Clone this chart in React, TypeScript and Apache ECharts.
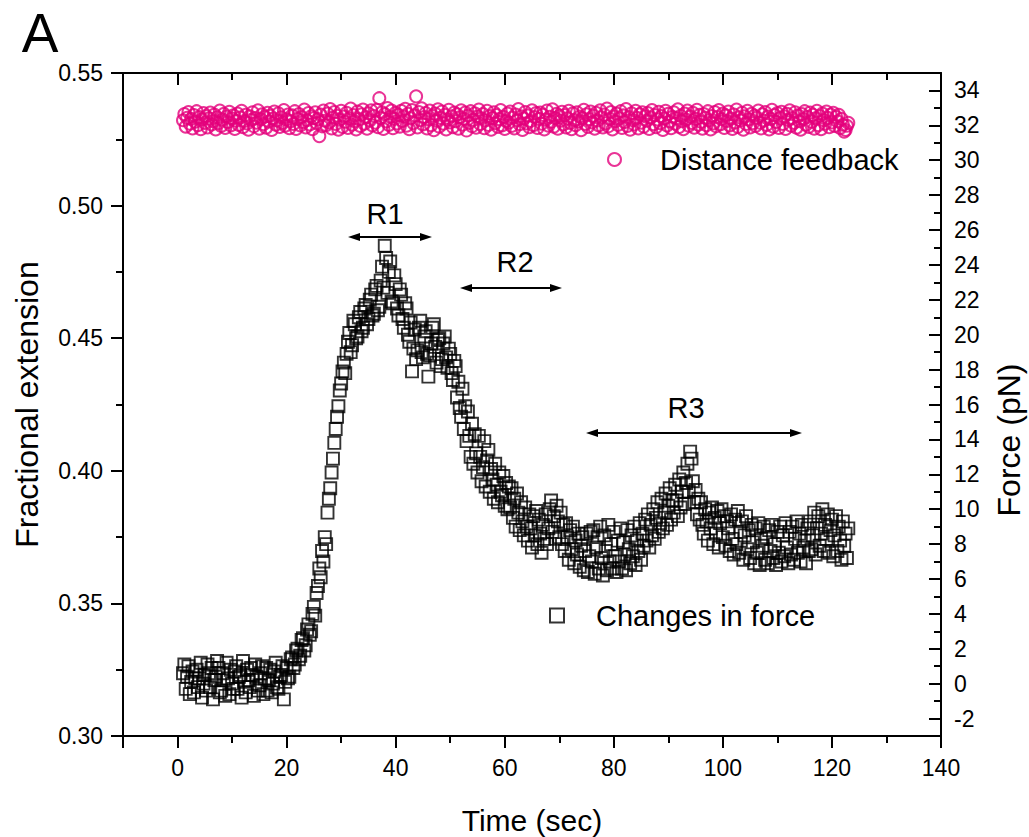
import React, { useEffect, useRef } from "react";
import * as echarts from "echarts";

const FONT = '"Liberation Sans", Arial, Helvetica, sans-serif';

// Sampling of both traces (seconds)
const T_START = 1.0;
const T_STEP = 0.25;

// Changes in force (pN), t = 1.00 ... 123.00 s, 20 samples (5 s) per row
const forcePN = [
  0.6, 1.1, -0.3, 0.4, 1.0, -0.6, 0.1, 0.7, -0.5, 0.3, 0.8, -0.2, 0.3, 1.2, -0.8, 0.0, 0.5, -0.4, 1.1, 0.6,
  -0.2, 0.9, -0.9, 0.2, 0.4, 1.3, 0.9, -0.5, -0.4, 0.6, 0.2, -0.7, 1.2, 0.3, -0.6, 0.8, 0.0, -0.3, 0.7, 1.0,
  -0.3, 0.4, 0.5, -0.8, 1.3, 0.1, -0.5, 0.8, 0.2, -0.2, 0.9, 0.5, -0.7, 1.1, 0.4, -0.4, -0.1, 0.6, 1.0, -0.6,
  0.3, 0.9, -0.4, 0.2, 0.8, -0.5, 0.0, 0.7, 1.2, -0.2, -0.3, 0.4, 0.5, 1.0, -0.9, 0.1, 0.9, 0.3, 0.4, 1.4,
  1.5, 0.9, 1.1, 1.9, 2.0, 1.4, 1.6, 2.5, 2.6, 1.9, 2.2, 3.1, 3.4, 2.8, 3.0, 4.0, 4.4, 3.9, 5.2, 5.6,
  6.6, 6.1, 7.6, 7.0, 8.4, 8.0, 9.8, 10.6, 11.2, 12.1, 12.9, 13.8, 14.6, 15.3, 15.9, 16.8, 17.2, 17.9, 18.4, 17.8,
  18.9, 19.6, 20.1, 19.0, 19.4, 20.8, 20.6, 19.8, 19.9, 21.0, 21.3, 20.2, 20.4, 21.5, 21.7, 20.6, 20.9, 22.0, 22.3, 21.1,
  21.2, 22.6, 22.8, 21.4, 21.6, 23.1, 23.9, 22.7, 25.1, 24.4, 22.4, 23.6, 24.2, 21.9, 21.8, 23.4, 22.9, 21.5, 21.1, 22.6,
  22.3, 20.9, 20.4, 21.8, 21.5, 20.0, 19.6, 20.7, 17.9, 19.2, 20.3, 18.6, 19.1, 20.4, 20.8, 19.0, 18.7, 19.9, 20.2, 18.9,
  17.6, 18.8, 19.5, 20.4, 20.6, 19.3, 18.4, 19.7, 19.8, 18.2, 18.6, 19.5, 19.9, 18.7, 18.1, 19.2, 18.9, 17.8, 17.4, 18.5,
  18.2, 16.4, 17.3, 15.8, 15.3, 16.9, 14.6, 15.9, 13.9, 15.6, 14.2, 13.0, 14.9, 12.6, 14.3, 13.2, 12.1, 14.2, 13.0, 11.6,
  12.4, 13.9, 11.3, 12.8, 13.4, 11.0, 12.3, 11.7, 10.6, 12.6, 11.4, 10.4, 12.1, 11.0, 10.8, 11.9, 10.2, 11.5, 10.0, 11.3,
  10.1, 11.2, 9.5, 10.6, 9.0, 10.9, 9.8, 8.8, 10.4, 9.3, 8.5, 10.1, 9.0, 8.2, 9.7, 8.9, 7.8, 9.6, 8.5, 9.9,
  8.0, 9.4, 8.6, 7.5, 9.1, 8.3, 9.7, 8.0, 8.9, 10.0, 10.5, 8.7, 9.6, 8.3, 10.2, 9.3, 8.4, 9.8, 8.0, 9.1,
  7.6, 9.2, 8.4, 7.1, 8.8, 7.7, 9.0, 6.9, 8.2, 7.4, 8.6, 6.7, 7.9, 8.4, 6.5, 7.6, 8.6, 6.4, 7.3, 8.7,
  7.0, 8.8, 6.3, 7.8, 8.4, 6.6, 9.0, 7.2, 6.2, 8.5, 7.6, 6.5, 9.1, 7.0, 8.0, 6.6, 8.7, 7.3, 6.4, 8.2,
  7.0, 8.9, 6.6, 8.1, 7.4, 6.5, 8.8, 7.7, 6.9, 8.5, 7.3, 9.0, 6.8, 8.2, 7.6, 9.2, 7.1, 8.6, 7.9, 9.4,
  8.2, 9.7, 7.8, 9.1, 8.5, 10.0, 8.3, 9.5, 10.4, 8.7, 9.2, 10.6, 8.9, 9.8, 10.9, 9.1, 10.2, 11.2, 9.4, 10.5,
  9.8, 11.4, 10.5, 9.6, 11.7, 10.1, 11.0, 12.1, 10.3, 11.5, 12.6, 11.0, 13.3, 12.9, 11.6, 10.4, 11.1, 9.7, 10.6, 9.4,
  10.4, 9.1, 8.6, 10.0, 9.3, 8.2, 9.8, 8.9, 10.1, 8.0, 9.5, 8.6, 9.9, 7.8, 9.2, 10.0, 8.4, 9.6, 7.9, 9.3,
  8.9, 7.6, 9.7, 8.3, 7.4, 9.4, 8.0, 9.9, 7.5, 8.7, 9.3, 7.1, 8.5, 9.6, 7.7, 8.8, 7.2, 9.1, 8.1, 6.9,
  8.9, 7.5, 9.2, 6.8, 8.3, 7.9, 9.0, 7.1, 8.4, 6.9, 8.8, 7.6, 9.1, 7.2, 8.0, 6.8, 8.7, 7.5, 9.0, 7.0,
  8.5, 7.3, 9.2, 7.8, 6.9, 8.7, 7.4, 9.0, 7.1, 8.3, 9.3, 7.5, 8.6, 7.0, 9.1, 7.8, 8.2, 6.9, 8.9, 7.6,
  9.3, 7.7, 8.5, 9.8, 7.4, 8.9, 9.6, 7.9, 8.6, 10.0, 7.6, 9.1, 8.3, 9.7, 7.5, 8.8, 9.4, 7.3, 8.5, 9.6,
  7.6, 9.0, 8.2, 7.1, 9.3, 7.9, 8.6, 7.2, 8.9,
];

// Distance feedback (fractional extension), t = 1.00 ... 123.00 s
const distanceFeedback = [
  0.5322, 0.5345, 0.5298, 0.5331, 0.5353, 0.5309, 0.5327, 0.5291, 0.5341, 0.5316, 0.5356, 0.5303, 0.5334, 0.5288, 0.5325, 0.5349, 0.5312, 0.5338, 0.5295, 0.5329,
  0.5351, 0.5306, 0.5318, 0.5343, 0.5287, 0.5333, 0.5311, 0.5358, 0.53, 0.5324, 0.5346, 0.5293, 0.5336, 0.5315, 0.5354, 0.5302, 0.5328, 0.534, 0.5289, 0.532,
  0.5347, 0.5304, 0.5332, 0.5357, 0.5296, 0.5319, 0.5342, 0.531, 0.5286, 0.5337, 0.5323, 0.5352, 0.5299, 0.533, 0.5313, 0.5359, 0.529, 0.5326, 0.5344, 0.5307,
  0.5335, 0.5294, 0.535, 0.5317, 0.5339, 0.5285, 0.5328, 0.5355, 0.5305, 0.5321, 0.5348, 0.5297, 0.5333, 0.5312, 0.536, 0.5301, 0.5325, 0.5343, 0.5292, 0.5318,
  0.534, 0.5308, 0.5356, 0.5289, 0.5327, 0.5345, 0.5302, 0.5334, 0.5315, 0.5362, 0.5295, 0.5322, 0.5349, 0.5306, 0.5337, 0.5288, 0.533, 0.5352, 0.5311, 0.5326,
  0.5262, 0.5343, 0.5299, 0.5358, 0.532, 0.5303, 0.5347, 0.5314, 0.5364, 0.5291, 0.5332, 0.5353, 0.5308, 0.5339, 0.5286, 0.5324, 0.5357, 0.5297, 0.5336, 0.5316,
  0.535, 0.5293, 0.5329, 0.5366, 0.5305, 0.5341, 0.5318, 0.5287, 0.5355, 0.5326, 0.53, 0.5344, 0.5362, 0.5309, 0.5333, 0.529, 0.5348, 0.5321, 0.5359, 0.5302,
  0.5338, 0.5313, 0.5361, 0.5296, 0.5405, 0.533, 0.5352, 0.5289, 0.5345, 0.5317, 0.5368, 0.5304, 0.5335, 0.5358, 0.5292, 0.5327, 0.535, 0.531, 0.5342, 0.5298,
  0.5357, 0.5319, 0.5336, 0.5365, 0.5301, 0.5346, 0.5288, 0.5329, 0.536, 0.5311, 0.534, 0.5412, 0.5295, 0.5353, 0.5322, 0.5367, 0.5306, 0.5334, 0.5349, 0.5291,
  0.5326, 0.5358, 0.5303, 0.5339, 0.5284, 0.5347, 0.532, 0.5363, 0.5298, 0.5331, 0.5355, 0.5309, 0.5342, 0.5287, 0.5324, 0.5361, 0.5314, 0.5337, 0.5296, 0.5351,
  0.5318, 0.5344, 0.529, 0.5333, 0.5359, 0.5305, 0.5327, 0.5351, 0.5283, 0.5339, 0.5312, 0.5356, 0.5299, 0.5323, 0.5348, 0.5294, 0.5336, 0.5362, 0.5308, 0.5329,
  0.5345, 0.5292, 0.5321, 0.5357, 0.5304, 0.5338, 0.5286, 0.533, 0.5352, 0.5311, 0.5341, 0.5297, 0.5326, 0.536, 0.5302, 0.5335, 0.5289, 0.5319, 0.5347, 0.5313,
  0.5355, 0.53, 0.5332, 0.5291, 0.5343, 0.5322, 0.5364, 0.5307, 0.5337, 0.5285, 0.5328, 0.5353, 0.531, 0.534, 0.5296, 0.5319, 0.5359, 0.5303, 0.5334, 0.5349,
  0.5293, 0.5327, 0.5351, 0.5309, 0.5342, 0.5287, 0.5324, 0.5358, 0.5301, 0.5335, 0.5316, 0.5363, 0.5298, 0.533, 0.5346, 0.529, 0.5339, 0.532, 0.5354, 0.5306,
  0.5341, 0.5295, 0.5329, 0.5357, 0.5312, 0.5288, 0.5348, 0.5323, 0.5303, 0.5352, 0.5317, 0.5336, 0.5284, 0.533, 0.5361, 0.5308, 0.5344, 0.5297, 0.5326, 0.5355,
  0.5314, 0.5339, 0.529, 0.535, 0.5321, 0.5302, 0.5359, 0.5333, 0.5295, 0.5343, 0.531, 0.5366, 0.5299, 0.5327, 0.5353, 0.5287, 0.5336, 0.5318, 0.5347, 0.5304,
  0.5329, 0.5356, 0.5293, 0.534, 0.5315, 0.5364, 0.53, 0.5334, 0.5286, 0.5348, 0.5322, 0.5306, 0.5357, 0.5331, 0.5291, 0.5344, 0.5313, 0.5352, 0.5298, 0.5337,
  0.532, 0.5349, 0.5289, 0.5332, 0.536, 0.5307, 0.5341, 0.5296, 0.5325, 0.5354, 0.5311, 0.5338, 0.5285, 0.5328, 0.5357, 0.5302, 0.5346, 0.5317, 0.5292, 0.5335,
  0.5352, 0.5309, 0.533, 0.5363, 0.5297, 0.5339, 0.5318, 0.5288, 0.5347, 0.5324, 0.5358, 0.5301, 0.5336, 0.5312, 0.535, 0.5294, 0.5327, 0.5361, 0.5305, 0.5342,
  0.5316, 0.529, 0.5345, 0.5331, 0.5303, 0.5356, 0.5322, 0.5287, 0.5338, 0.531, 0.5353, 0.5299, 0.5334, 0.536, 0.5306, 0.5326, 0.5347, 0.5293, 0.534, 0.5319,
  0.5355, 0.5302, 0.5328, 0.5289, 0.5343, 0.5314, 0.5362, 0.5297, 0.5333, 0.5321, 0.535, 0.5286, 0.5337, 0.5308, 0.5357, 0.5325, 0.5295, 0.5346, 0.5311, 0.5339,
  0.53, 0.5332, 0.5358, 0.5313, 0.5291, 0.5344, 0.532, 0.5353, 0.5304, 0.5336, 0.5287, 0.5327, 0.5361, 0.5298, 0.5341, 0.5315, 0.5349, 0.5293, 0.533, 0.5354,
  0.5308, 0.5337, 0.5289, 0.5346, 0.5323, 0.5359, 0.5301, 0.533, 0.5312, 0.5352, 0.5294, 0.534, 0.5318, 0.5286, 0.5345, 0.5326, 0.5356, 0.5305, 0.5334, 0.5297,
  0.5351, 0.5316, 0.5342, 0.529, 0.5329, 0.5357, 0.5303, 0.5338, 0.5288, 0.5347, 0.5322, 0.5309, 0.5355, 0.5331, 0.5296, 0.5343, 0.5314, 0.535, 0.53, 0.5335,
  0.5318, 0.5342, 0.5293, 0.5327, 0.5305, 0.5279, 0.5285, 0.5301, 0.5312,
];

// Region annotations
const regionLabels = ["R1", "R2", "R3"];

const PINK = "#e4007c";

function arrow(x1: number, x2: number, y: number) {
  const h = 12;
  const w = 4;
  return [
    { type: "line", shape: { x1: x1 + 6, y1: y, x2: x2 - 6, y2: y }, style: { stroke: "#000", lineWidth: 2 } },
    { type: "polygon", shape: { points: [[x1, y], [x1 + h, y - w], [x1 + h, y + w]] }, style: { fill: "#000" } },
    { type: "polygon", shape: { points: [[x2, y], [x2 - h, y - w], [x2 - h, y + w]] }, style: { fill: "#000" } },
  ];
}

export default function App() {
  const ref = useRef<HTMLDivElement>(null);

  useEffect(() => {
    if (!ref.current) return;
    const chart = echarts.init(ref.current, null, { renderer: "svg" });

    const forceData = forcePN.map((v, i) => [T_START + i * T_STEP, v]);
    const distData = distanceFeedback.map((v, i) => [T_START + i * T_STEP, v]);

    const axisLine = { show: true, onZero: false, lineStyle: { color: "#000", width: 2 } };
    const tickStyle = { color: "#000", width: 2 };

    const xCommon = {
      type: "value",
      min: -10,
      max: 140,
      splitNumber: 7,
      splitLine: { show: false },
      axisLine,
    };

    const labelText = (t: string, x: number, y: number) => ({
      type: "text",
      x,
      y,
      style: { text: t, fontSize: 29, fontFamily: FONT, fill: "#000", align: "center", verticalAlign: "middle" },
    });

    const option: any = {
      animation: false,
      backgroundColor: "#fff",
      grid: { left: 123, right: 88, top: 73, bottom: 101, containLabel: false, outerBoundsMode: "none" },
      xAxis: [
        {
          ...xCommon,
          position: "bottom",
          axisTick: { show: true, inside: false, length: 12, lineStyle: tickStyle },
          minorTick: { show: true, splitNumber: 2, length: 7, lineStyle: tickStyle },
          axisLabel: {
            fontSize: 23,
            color: "#000",
            fontFamily: FONT,
            margin: 20,
            showMinLabel: false,
            formatter: (v: number) => String(Math.round(v)),
          },
          name: "Time (sec)",
          nameLocation: "middle",
          nameGap: 69,
          nameTextStyle: { fontSize: 30, color: "#000", fontFamily: FONT },
        },
        {
          ...xCommon,
          position: "top",
          axisTick: { show: true, inside: true, length: 12, lineStyle: tickStyle },
          minorTick: { show: true, splitNumber: 2, length: 7, lineStyle: tickStyle },
          axisLabel: { show: false },
        },
      ],
      yAxis: [
        {
          type: "value",
          position: "left",
          min: 0.3,
          max: 0.55,
          interval: 0.05,
          splitLine: { show: false },
          axisLine,
          axisTick: { show: true, inside: false, length: 12, lineStyle: tickStyle },
          minorTick: { show: true, splitNumber: 2, length: 7, lineStyle: tickStyle },
          axisLabel: {
            fontSize: 23,
            color: "#000",
            fontFamily: FONT,
            margin: 20,
            formatter: (v: number) => v.toFixed(2),
          },
          name: "Fractional extension",
          nameLocation: "middle",
          nameGap: 80,
          nameTextStyle: { fontSize: 32, color: "#000", fontFamily: FONT },
        },
        {
          type: "value",
          position: "right",
          min: -3,
          max: 35,
          splitNumber: 19,
          splitLine: { show: false },
          axisLine,
          axisTick: { show: true, inside: true, length: 12, lineStyle: tickStyle },
          minorTick: { show: true, splitNumber: 2, length: 7, lineStyle: tickStyle },
          axisLabel: {
            fontSize: 23,
            color: "#000",
            fontFamily: FONT,
            margin: 13,
            showMinLabel: false,
            showMaxLabel: false,
          },
        },
      ],
      legend: [
        {
          data: [
            {
              name: "Distance feedback",
              icon: "circle",
              itemStyle: { color: "rgba(255,255,255,0)", borderColor: PINK, borderWidth: 2 },
            },
          ],
          left: 607,
          top: 145,
          padding: 0,
          itemWidth: 13,
          itemHeight: 13,
          selectedMode: false,
          textStyle: { fontSize: 29, color: "#000", fontFamily: FONT, padding: [0, 0, 0, 34] },
        },
        {
          data: [
            {
              name: "Changes in force",
              icon: "rect",
              itemStyle: { color: "rgba(255,255,255,0)", borderColor: "#000", borderWidth: 2 },
            },
          ],
          left: 549,
          top: 601,
          padding: 0,
          itemWidth: 14,
          itemHeight: 14,
          selectedMode: false,
          textStyle: { fontSize: 29, color: "#000", fontFamily: FONT, padding: [0, 0, 0, 27] },
        },
      ],
      series: [
        {
          name: "Distance feedback",
          type: "scatter",
          xAxisIndex: 0,
          yAxisIndex: 0,
          symbol: "circle",
          symbolSize: 12,
          itemStyle: { color: "rgba(255,255,255,0)", borderColor: PINK, borderWidth: 2 },
          data: distData,
          z: 3,
        },
        {
          name: "Changes in force",
          type: "scatter",
          xAxisIndex: 0,
          yAxisIndex: 1,
          symbol: "rect",
          symbolSize: 12,
          itemStyle: { color: "rgba(255,255,255,0)", borderColor: "#000", borderWidth: 1.9 },
          data: forceData,
          z: 3,
        },
      ],
      graphic: [
        {
          type: "text",
          x: 40,
          y: 33,
          style: { text: "A", fontSize: 55, fontFamily: FONT, fill: "#000", align: "center", verticalAlign: "middle" },
        },
        {
          type: "text",
          x: 1009,
          y: 440,
          rotation: Math.PI / 2,
          style: { text: "Force (pN)", fontSize: 32, fontFamily: FONT, fill: "#000", align: "center", verticalAlign: "middle" },
        },
        labelText(regionLabels[0], 385, 214),
        labelText(regionLabels[1], 515, 262),
        labelText(regionLabels[2], 686, 408),
        ...arrow(348, 432, 237),
        ...arrow(460, 562, 288),
        ...arrow(586, 802, 433),
      ],
    };

    chart.setOption(option);
    return () => chart.dispose();
  }, []);

  return (
    <div
      ref={ref}
      style={{ position: "absolute", left: 0, top: 0, width: 1029, height: 837, background: "#fff" }}
    />
  );
}
